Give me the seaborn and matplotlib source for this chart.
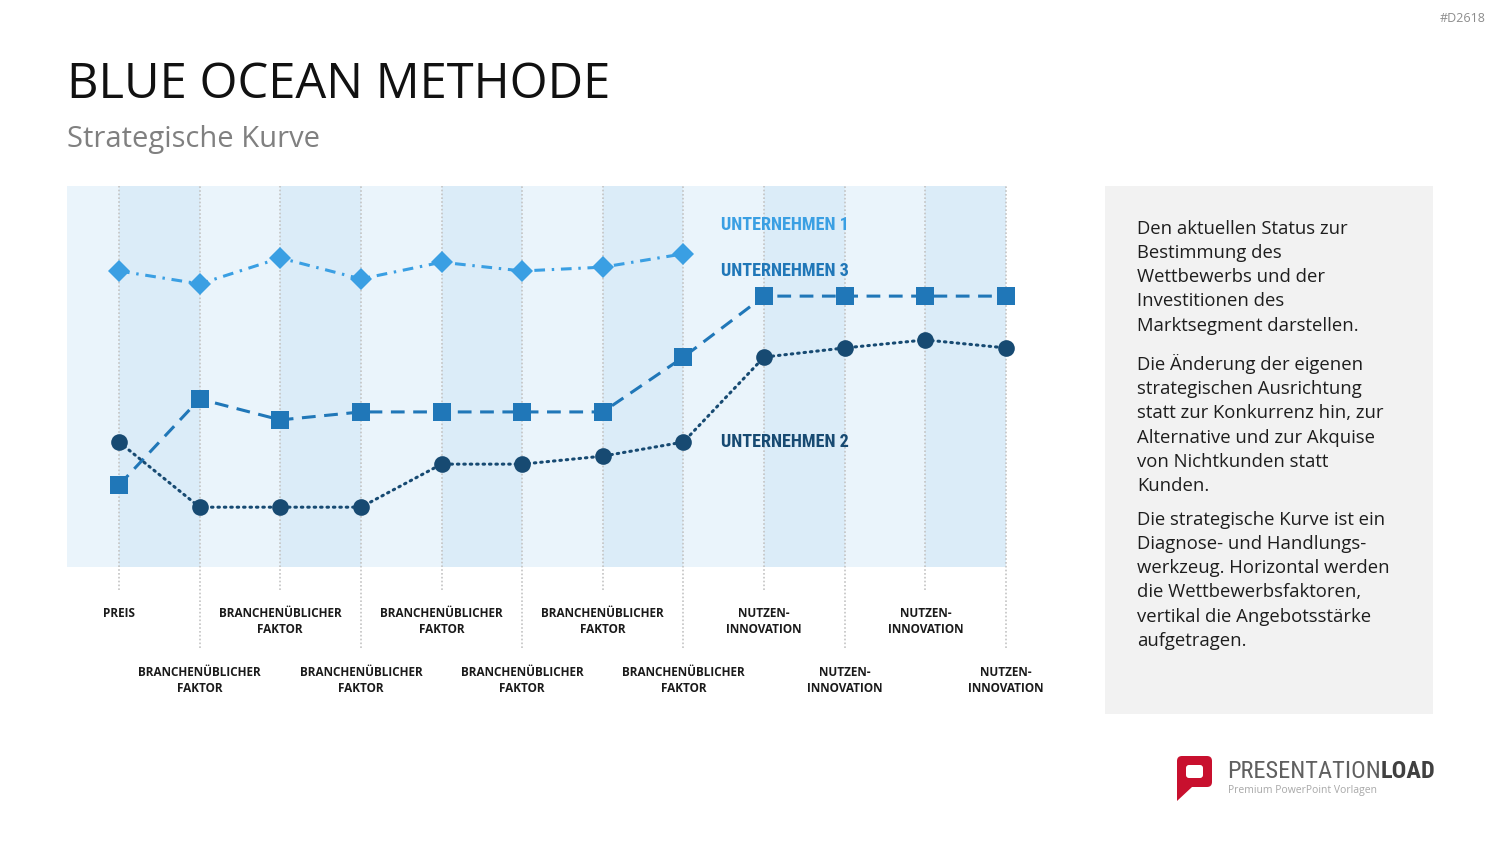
import numpy as np
import pandas as pd
import seaborn as sns
import matplotlib.pyplot as plt
from matplotlib.patches import Rectangle, FancyBboxPatch, Polygon

# Strategic curve data (scale 0..10)
kategorien = ["PREIS"] + ["BRANCHENÜBLICHER\nFAKTOR"] * 7 + ["NUTZEN-\nINNOVATION"] * 4
unternehmen_1 = [7.77, 7.43, 8.11, 7.56, 8.00, 7.77, 7.87, 8.22]
unternehmen_2 = [3.28, 1.57, 1.57, 1.57, 2.70, 2.70, 2.91, 3.28, 5.51, 5.75, 5.96, 5.75]
unternehmen_3 = [2.15, 4.41, 3.86, 4.07, 4.07, 4.07, 4.07, 5.51, 7.11, 7.11, 7.11, 7.11]

absaetze = [
    "Den aktuellen Status zur\nBestimmung des\nWettbewerbs und der\nInvestitionen des\nMarktsegment darstellen.",
    "Die Änderung der eigenen\nstrategischen Ausrichtung\nstatt zur Konkurrenz hin, zur\nAlternative und zur Akquise\nvon Nichtkunden statt\nKunden.",
    "Die strategische Kurve ist ein\nDiagnose- und Handlungs-\nwerkzeug. Horizontal werden\ndie Wettbewerbsfaktoren,\nvertikal die Angebotsstärke\naufgetragen.",
]

c1 = "#3A9FE3"
c2 = "#174A72"
c3 = "#2077B8"

sns.set_style("white")
plt.rcParams['font.family'] = ['Open Sans', 'DejaVu Sans']
narrow = ['Roboto Condensed', 'Liberation Sans Narrow', 'Open Sans Condensed', 'DejaVu Sans']

W, H = 1500, 844
fig = plt.figure(figsize=(15, 8.44), dpi=100)

# overlay in pixel coordinates for the decoration
bg = fig.add_axes([0, 0, 1, 1])
bg.set_xlim(0, W)
bg.set_ylim(H, 0)
bg.axis("off")

# main chart area
ax = fig.add_axes([67 / W, (H - 567) / H, (1006 - 67) / W, (567 - 186) / H])
n = len(kategorien)
ax.set_xlim(-0.645, n - 1)
ax.set_ylim(0, 10)

# alternating background bands
ax.axvspan(-0.645, 0, color="#EAF4FB", lw=0, zorder=0)
for i in range(n - 1):
    ax.axvspan(i, i + 1, color="#DBECF8" if i % 2 == 0 else "#EAF4FB", lw=0, zorder=0)

# dotted guides, reaching down to the label rows
for i in range(n):
    low = -0.6 if i % 2 == 0 else -2.13
    ax.vlines(i, low, 10, colors="#C4C4C4", linestyles=(0, (1, 1.3)), lw=1.2,
              clip_on=False, zorder=1)

df1 = pd.DataFrame({"pos": range(len(unternehmen_1)), "wert": unternehmen_1})
df2 = pd.DataFrame({"pos": range(len(unternehmen_2)), "wert": unternehmen_2})
df3 = pd.DataFrame({"pos": range(len(unternehmen_3)), "wert": unternehmen_3})

sns.lineplot(data=df1, x="pos", y="wert", ax=ax, color=c1, lw=2.2, marker="D", ms=11,
             mew=0, linestyle=(0, (3.5, 2.2, 0.8, 2.2)), legend=False, clip_on=False, zorder=3)
sns.lineplot(data=df3, x="pos", y="wert", ax=ax, color=c3, lw=2.2, marker="s", ms=13,
             mew=0, linestyle=(0, (4.5, 2.8)), legend=False, clip_on=False, zorder=3)
sns.lineplot(data=df2, x="pos", y="wert", ax=ax, color=c2, lw=2.2, marker="o", ms=12,
             mew=0, linestyle=(0, (0.5, 1.6)), dash_capstyle="round", legend=False,
             clip_on=False, zorder=4)

lab1 = ax.text(7.46, 8.98, "UNTERNEHMEN 1", color=c1, fontsize=19, fontweight="bold",
               family=narrow, fontstretch="condensed", va="center", ha="left")
lab3 = ax.text(7.46, 7.77, "UNTERNEHMEN 3", color=c3, fontsize=19, fontweight="bold",
               family=narrow, fontstretch="condensed", va="center", ha="left")
lab2 = ax.text(7.46, 3.28, "UNTERNEHMEN 2", color=c2, fontsize=19, fontweight="bold",
               family=narrow, fontstretch="condensed", va="center", ha="left")

ax.set_xticks(range(n))
ax.set_xticklabels(kategorien, fontsize=8.5, fontweight="bold", color="#1A1A1A",
                   linespacing=1.3)
ax.tick_params(axis="x", length=0)
for i, t in enumerate(ax.xaxis.get_major_ticks()):
    t.set_pad(29 if i % 2 == 0 else 71)
ax.set_yticks([])
ax.set_xlabel("")
ax.set_ylabel("")
for s in ax.spines.values():
    s.set_visible(False)

# titles
bg.text(67, 85, "BLUE OCEAN METHODE", fontsize=35.2, color="#111111", va="center", ha="left")
bg.text(67, 139, "Strategische Kurve", fontsize=21, color="#808080", va="center", ha="left")
bg.text(1486, 19, "#D2618", fontsize=9, color="#8C8C8C", va="center", ha="right")

# right info box
bg.add_patch(Rectangle((1105, 186), 328, 528, color="#F2F2F2", lw=0))
for y, txt in zip([220, 354, 511], absaetze):
    bg.text(1137, y, txt, fontsize=13.3, color="#1E1E1E", va="top", ha="left",
            linespacing=1.44)

# logo
red = "#C8102E"
bg.add_patch(FancyBboxPatch((1177, 756), 35, 31, boxstyle="round,pad=0,rounding_size=5",
                            color=red, lw=0))
bg.add_patch(Polygon([(1177, 780), (1192, 787), (1177, 801)], color=red, lw=0))
bg.add_patch(FancyBboxPatch((1186, 765), 17, 13, boxstyle="round,pad=0,rounding_size=3",
                            color="white", lw=0))
t1 = bg.text(1227, 771, "PRESENTATION", fontsize=20, color="#606060", family=narrow,
             fontstretch="condensed", va="center", ha="left")
t2 = bg.annotate("LOAD", xy=(1, 0.5), xycoords=t1, va="center", ha="left", fontsize=20,
                 fontweight="bold", color="#404040", family=narrow, fontstretch="condensed")
bg.text(1228, 791, "Premium PowerPoint Vorlagen", fontsize=7.5, color="#A8A8A8",
        va="center", ha="left")

# shrink the narrow-font texts to the widths seen in the reference
fig.canvas.draw()
r = fig.canvas.get_renderer()
for lab in (lab1, lab2, lab3):
    w = lab.get_window_extent(r).width
    lab.set_fontsize(min(19, 19 * 128 / w))
w_logo = t1.get_window_extent(r).width + t2.get_window_extent(r).width
fs = min(20, 20 * 208 / w_logo)
t1.set_fontsize(fs)
t2.set_fontsize(fs)

fig.savefig("out.png", dpi=100)
